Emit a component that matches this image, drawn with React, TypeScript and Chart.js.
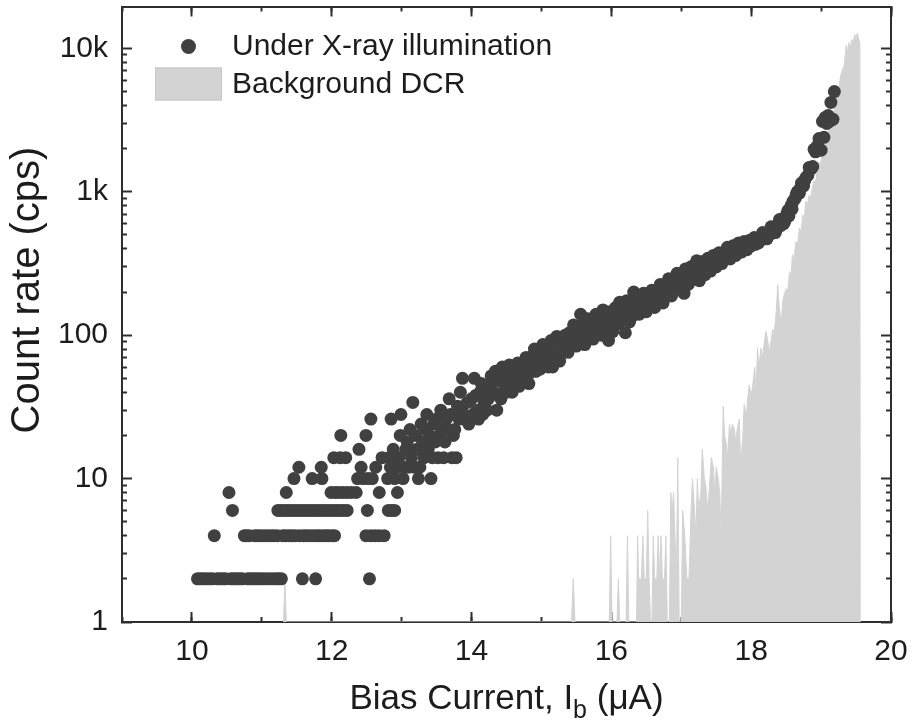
import { useEffect, useRef } from 'react';
import { Chart, registerables } from 'chart.js';

Chart.register(...registerables);

// ---------- data ----------
const xMin = 9;
const xMax = 20;
const yMin = 1;
const yMax = 19600;

const xMajorTicks = [10, 12, 14, 16, 18, 20];
const xMinorTicks = [9, 10, 11, 12, 13, 14, 15, 16, 17, 18, 19, 20];
const yMajorTicks = [1, 10, 100, 1000, 10000];
const yTickLabels = ['1', '10', '100', '1k', '10k'];
const yMinorTicks = [
  2, 3, 4, 5, 6, 7, 8, 9,
  20, 30, 40, 50, 60, 70, 80, 90,
  200, 300, 400, 500, 600, 700, 800, 900,
  2000, 3000, 4000, 5000, 6000, 7000, 8000, 9000,
];

const seriesLabels = ['Under X-ray illumination', 'Background DCR'];

// Under X-ray illumination: [bias current (uA), count rate (cps)]
const xrayPoints: [number, number][] = [
  // count 2
  [10.08, 2], [10.12, 2], [10.16, 2], [10.2, 2], [10.25, 2], [10.29, 2], [10.36, 2], [10.4, 2], [10.44, 2], [10.48, 2],
  [10.56, 2], [10.6, 2], [10.64, 2], [10.68, 2], [10.72, 2], [10.8, 2], [10.84, 2], [10.88, 2], [10.92, 2], [10.96, 2],
  [11.0, 2], [11.05, 2], [11.1, 2], [11.15, 2], [11.2, 2], [11.24, 2], [11.28, 2], [11.58, 2], [11.77, 2], [12.54, 2],
  // count 4
  [10.32, 4], [10.75, 4], [10.78, 4], [10.82, 4], [10.9, 4], [10.94, 4], [10.98, 4], [11.03, 4], [11.08, 4], [11.13, 4],
  [11.17, 4], [11.22, 4], [11.3, 4], [11.34, 4], [11.39, 4], [11.43, 4], [11.48, 4], [11.54, 4], [11.6, 4], [11.64, 4],
  [11.69, 4], [11.74, 4], [11.79, 4], [11.83, 4], [11.88, 4], [11.92, 4], [11.96, 4], [12.01, 4], [12.04, 4], [12.49, 4],
  [12.56, 4], [12.62, 4], [12.68, 4], [12.75, 4],
  // count 6
  [10.58, 6], [11.23, 6], [11.27, 6], [11.32, 6], [11.37, 6], [11.42, 6], [11.47, 6], [11.52, 6], [11.57, 6], [11.62, 6],
  [11.67, 6], [11.72, 6], [11.77, 6], [11.82, 6], [11.87, 6], [11.92, 6], [11.97, 6], [12.02, 6], [12.07, 6], [12.12, 6],
  [12.17, 6], [12.22, 6], [12.51, 6], [12.81, 6], [12.86, 6], [12.9, 6],
  // count 8
  [10.53, 8], [11.35, 8], [11.99, 8], [12.05, 8], [12.1, 8], [12.16, 8], [12.22, 8], [12.28, 8], [12.35, 8], [12.68, 8], [12.94, 8],
  // count 10 and more (sparse region)
  [11.46, 10], [11.72, 10], [11.86, 10], [12.37, 10], [12.45, 10], [12.52, 10], [12.58, 10],
  [11.53, 12], [11.85, 12], [12.42, 12], [12.63, 12],
  [12.03, 14], [12.12, 14], [12.2, 14], [12.72, 14],
  [12.39, 16], [12.13, 20], [12.49, 20], [12.56, 26], [12.85, 26], [12.99, 28],
  // dense band
  [12.8, 10], [12.82, 14], [12.84, 12], [12.88, 16], [12.9, 10], [12.94, 12], [12.96, 14], [12.98, 20], [13.02, 10], [13.04, 12],
  [13.06, 16], [13.08, 18], [13.1, 12], [13.12, 22], [13.14, 14], [13.16, 34], [13.18, 12], [13.2, 20], [13.22, 16], [13.24, 10],
  [13.26, 12], [13.28, 24], [13.3, 18], [13.32, 14], [13.34, 22], [13.36, 28], [13.38, 16], [13.4, 20], [13.42, 10], [13.44, 14],
  [13.46, 24], [13.48, 18], [13.5, 26], [13.52, 14], [13.54, 20], [13.56, 30], [13.58, 22], [13.6, 14], [13.62, 18], [13.64, 26],
  [13.66, 22], [13.68, 36], [13.7, 28], [13.72, 14], [13.74, 20], [13.76, 22], [13.78, 14], [13.8, 32], [13.82, 26], [13.84, 40],
  [13.86, 30], [13.87, 50], [13.9, 26], [13.94, 34], [13.96, 24], [14.0, 36], [14.02, 28], [14.04, 50], [14.06, 38], [14.08, 30],
  [14.1, 26], [14.12, 40], [14.14, 46], [14.16, 28], [14.18, 34], [14.2, 44], [14.22, 30], [14.24, 36], [14.26, 42], [14.28, 52],
  [14.3, 48], [14.32, 40], [14.34, 56], [14.36, 30], [14.38, 38], [14.4, 48], [14.42, 36], [14.44, 60], [14.46, 52], [14.48, 42],
  [14.5, 40], [14.52, 54], [14.54, 62], [14.56, 46], [14.58, 40], [14.6, 60], [14.62, 54], [14.64, 50], [14.66, 64], [14.68, 44],
  [14.7, 48], [14.72, 58], [14.74, 50], [14.76, 66], [14.78, 70], [14.8, 52], [14.82, 46], [14.84, 62], [14.86, 56], [14.88, 72],
  [14.9, 80], [14.92, 56], [14.94, 62], [14.96, 66], [14.98, 58], [15.0, 78], [15.02, 86], [15.04, 62], [15.06, 66], [15.08, 74],
  [15.1, 60], [15.12, 82], [15.14, 92], [15.16, 60], [15.18, 70], [15.2, 88], [15.22, 98], [15.24, 72], [15.26, 66], [15.28, 96],
  [15.3, 78], [15.32, 80], [15.34, 100], [15.36, 90], [15.38, 76], [15.4, 104], [15.42, 94], [15.44, 86], [15.46, 118], [15.48, 98],
  [15.5, 84], [15.52, 112], [15.54, 100], [15.56, 140], [15.58, 118], [15.6, 96], [15.62, 86], [15.64, 110], [15.66, 130], [15.68, 124],
  [15.7, 110], [15.72, 100], [15.74, 94], [15.76, 116], [15.78, 140], [15.8, 134], [15.82, 118], [15.84, 108], [15.86, 100], [15.88, 150],
  [15.9, 138], [15.92, 128], [15.94, 112], [15.96, 92], [15.98, 146], [16.0, 118], [16.02, 106], [16.04, 140], [16.06, 156], [16.08, 126],
  [16.1, 120], [16.12, 170], [16.14, 150], [16.16, 136], [16.18, 128], [16.2, 104], [16.22, 174], [16.24, 150], [16.26, 124], [16.28, 132],
  [16.3, 156], [16.32, 200], [16.34, 140], [16.36, 158], [16.38, 182], [16.4, 140], [16.42, 150], [16.44, 172], [16.46, 196], [16.48, 156],
  [16.5, 146], [16.52, 186], [16.54, 170], [16.56, 160], [16.58, 206], [16.6, 176], [16.62, 156], [16.64, 200], [16.66, 186], [16.68, 172],
  [16.7, 226], [16.72, 210], [16.74, 168], [16.76, 186], [16.78, 206], [16.8, 220], [16.82, 248], [16.84, 196], [16.86, 188], [16.88, 232],
  [16.9, 220], [16.92, 210], [16.94, 270], [16.96, 250], [16.98, 212], [17.0, 230], [17.02, 250], [17.04, 196], [17.06, 290], [17.08, 262],
  [17.1, 226], [17.12, 250], [17.14, 300], [17.16, 282], [17.18, 246], [17.2, 310], [17.22, 330], [17.24, 264], [17.26, 240], [17.28, 300],
  [17.3, 326], [17.32, 276], [17.34, 264], [17.36, 310], [17.38, 344], [17.4, 290], [17.42, 280], [17.44, 326], [17.46, 360], [17.48, 304],
  [17.5, 300], [17.52, 340], [17.54, 376], [17.56, 320], [17.58, 316], [17.6, 356], [17.62, 340], [17.64, 390], [17.66, 410], [17.68, 370],
  [17.7, 340], [17.72, 405], [17.74, 420], [17.76, 380], [17.78, 360], [17.8, 410], [17.82, 440], [17.84, 395], [17.86, 380], [17.88, 425],
  [17.9, 450], [17.92, 405], [17.94, 395], [17.96, 440], [17.98, 460], [18.0, 420], [18.03, 450], [18.045, 480], [18.06, 430], [18.09, 470],
  [18.105, 440], [18.12, 455], [18.15, 490], [18.165, 520], [18.18, 470], [18.21, 510], [18.225, 470], [18.24, 490], [18.27, 530], [18.285, 570],
  [18.3, 515], [18.33, 560], [18.345, 520], [18.36, 545], [18.39, 600], [18.405, 640], [18.42, 580], [18.45, 640], [18.465, 600], [18.48, 620],
  [18.51, 700], [18.525, 740], [18.54, 680], [18.57, 800], [18.585, 760], [18.6, 860], [18.63, 900], [18.645, 960], [18.66, 1000], [18.69, 980],
  [18.705, 1060], [18.72, 1150], [18.75, 1100], [18.765, 1200], [18.78, 1250], [18.81, 1300], [18.83, 1480], [18.86, 1450], [18.88, 1500], [18.9, 1980],
  [18.92, 1900], [18.95, 2100], [18.97, 2350], [19.0, 1950], [19.02, 3100], [19.04, 2400], [19.06, 3300], [19.08, 3000], [19.1, 3400], [19.12, 3100],
  [19.14, 4200], [19.17, 3200], [19.19, 5000],
];

// Background dark count rate: [bias current (uA), count rate (cps)]; 1 = no counts (axis floor)
const dcrPoints: [number, number][] = [
  [11.31, 1], [11.33, 2], [11.35, 1],
  [15.43, 1], [15.455, 2], [15.48, 1],
  [15.97, 1], [15.99, 4], [16.01, 1],
  [16.08, 1], [16.1, 2], [16.12, 1],
  [16.21, 1], [16.23, 4], [16.25, 1],
  [16.36, 1], [16.375, 4], [16.39, 2], [16.43, 2], [16.45, 4], [16.47, 2], [16.5, 2], [16.52, 6], [16.54, 2], [16.56, 1],
  [16.58, 1], [16.6, 4], [16.62, 2], [16.65, 2], [16.67, 4], [16.69, 2], [16.71, 4], [16.73, 2], [16.76, 2], [16.78, 4], [16.8, 1],
  [16.83, 1], [16.85, 8], [16.87, 6], [16.89, 8], [16.91, 4], [16.93, 2], [16.95, 14], [16.97, 1], [17.0, 1],
  [17.02, 6], [17.05, 4], [17.08, 2], [17.11, 2], [17.14, 6], [17.16, 10], [17.19, 6], [17.21, 4], [17.23, 10], [17.25, 6],
  [17.28, 8], [17.3, 16], [17.33, 10], [17.35, 9], [17.38, 6], [17.41, 10], [17.43, 14], [17.46, 12], [17.48, 8], [17.5, 12],
  [17.53, 10], [17.55, 8], [17.57, 4], [17.6, 32], [17.62, 20], [17.64, 18], [17.66, 14], [17.69, 24], [17.71, 20], [17.73, 24],
  [17.76, 22], [17.78, 18], [17.8, 22], [17.83, 26], [17.85, 12], [17.88, 20], [17.9, 33], [17.93, 27], [17.95, 36], [17.97, 45],
  [18.0, 38], [18.02, 44], [18.05, 60], [18.07, 40], [18.09, 81], [18.11, 60], [18.14, 81], [18.16, 70], [18.19, 90], [18.21, 107],
  [18.24, 90], [18.26, 77], [18.29, 95], [18.31, 110], [18.33, 101], [18.36, 150], [18.38, 225], [18.4, 160], [18.43, 119], [18.45, 172],
  [18.47, 190], [18.5, 211], [18.52, 200], [18.55, 278], [18.57, 260], [18.59, 365], [18.61, 330], [18.64, 450], [18.66, 420], [18.69, 560],
  [18.71, 520], [18.74, 690], [18.76, 640], [18.78, 860], [18.8, 800], [18.83, 950], [18.85, 900], [18.88, 1100], [18.9, 1200], [18.92, 1150],
  [18.95, 1500], [18.97, 1620], [18.99, 1500], [19.02, 2000], [19.04, 2200], [19.07, 2500], [19.09, 2400], [19.11, 2800], [19.14, 3000], [19.16, 3050],
  [19.18, 3600], [19.21, 4200], [19.23, 4800], [19.26, 5500], [19.28, 6500], [19.31, 7200], [19.33, 7600], [19.36, 10500], [19.38, 9500], [19.4, 11000],
  [19.42, 10200], [19.44, 11500], [19.46, 11000], [19.48, 12500], [19.5, 11800], [19.52, 12800], [19.54, 11500], [19.555, 11000], [19.56, 1],
];

// ---------- styles ----------
const FONT = '"Liberation Sans", Arial, Helvetica, sans-serif';
const AXIS_COLOR = '#2e2e2e';
const TEXT_COLOR = '#1c1c1c';
const DOT_COLOR = '#404040';
const DCR_COLOR = '#d3d3d3';

function tickAxis(opts: {
  type: 'linear' | 'logarithmic';
  position: 'left' | 'right' | 'top' | 'bottom';
  ticksList: number[];
  length: number;
  size: number;
  weight: number;
  border: boolean;
  labels?: boolean;
  padding?: number;
  callback?: (v: number) => string;
}) {
  const horizontal = opts.position === 'top' || opts.position === 'bottom';
  return {
    type: opts.type,
    position: opts.position,
    min: horizontal ? xMin : yMin,
    max: horizontal ? xMax : yMax,
    weight: opts.weight,
    z: 1,
    afterBuildTicks: (scale: any) => {
      scale.ticks = opts.ticksList.map((v) => ({ value: v }));
    },
    afterFit: (scale: any) => {
      if (horizontal) scale.height = opts.size;
      else scale.width = opts.size;
      scale.paddingTop = 0;
      scale.paddingBottom = 0;
      scale.paddingLeft = 0;
      scale.paddingRight = 0;
    },
    grid: {
      display: true,
      drawOnChartArea: false,
      drawTicks: true,
      tickLength: -opts.length,
      tickWidth: 2,
      tickColor: AXIS_COLOR,
      color: AXIS_COLOR,
    },
    border: { display: opts.border, color: AXIS_COLOR, width: 2 },
    ticks: {
      display: !!opts.labels,
      autoSkip: false,
      maxRotation: 0,
      includeBounds: false,
      padding: opts.padding ?? 0,
      color: TEXT_COLOR,
      font: { family: FONT, size: 30 },
      callback: opts.callback ?? ((v: number) => String(v)),
    },
  };
}

const overlayPlugin = {
  id: 'overlay',
  afterDraw(chart: any) {
    const ctx: CanvasRenderingContext2D = chart.ctx;
    const area = chart.chartArea;
    ctx.save();

    // legend
    ctx.fillStyle = DOT_COLOR;
    ctx.beginPath();
    ctx.arc(area.left + 66.5, area.top + 40, 7.5, 0, Math.PI * 2);
    ctx.fill();
    ctx.fillStyle = DCR_COLOR;
    ctx.fillRect(area.left + 33, area.top + 61, 67, 33);
    ctx.strokeStyle = '#c6c6c6';
    ctx.lineWidth = 1;
    ctx.strokeRect(area.left + 33.5, area.top + 61.5, 66, 32);
    ctx.fillStyle = TEXT_COLOR;
    ctx.font = `30px ${FONT}`;
    ctx.textAlign = 'left';
    ctx.textBaseline = 'middle';
    ctx.fillText(seriesLabels[0], area.left + 110, area.top + 40);
    ctx.fillText(seriesLabels[1], area.left + 110, area.top + 78);

    // x axis title with subscript
    const partA = 'Bias Current, I';
    const partB = 'b';
    const partC = ' (\u03bcA)';
    const mainFont = `35px ${FONT}`;
    const subFont = `25px ${FONT}`;
    ctx.textBaseline = 'alphabetic';
    ctx.font = mainFont;
    const wA = ctx.measureText(partA).width;
    const wC = ctx.measureText(partC).width;
    ctx.font = subFont;
    const wB = ctx.measureText(partB).width;
    const cx = (area.left + area.right) / 2;
    let x = cx - (wA + wB + wC) / 2;
    const base = area.bottom + 87;
    ctx.font = mainFont;
    ctx.fillText(partA, x, base);
    x += wA;
    ctx.font = subFont;
    ctx.fillText(partB, x, base + 9);
    x += wB;
    ctx.font = mainFont;
    ctx.fillText(partC, x, base);

    // y axis title
    ctx.translate(39, 290);
    ctx.rotate(-Math.PI / 2);
    ctx.font = `40px ${FONT}`;
    ctx.textAlign = 'center';
    ctx.fillText('Count rate (cps)', 0, 0);

    ctx.restore();
  },
};

export default function App() {
  const ref = useRef<HTMLCanvasElement>(null);

  useEffect(() => {
    if (!ref.current) return;
    const chart = new Chart(ref.current, {
      type: 'scatter',
      data: {
        datasets: [
          {
            type: 'scatter',
            label: seriesLabels[0],
            data: xrayPoints.map(([x, y]) => ({ x, y })),
            backgroundColor: DOT_COLOR,
            borderWidth: 0,
            pointRadius: 6.5,
            pointHoverRadius: 6.5,
          },
          {
            type: 'line',
            label: seriesLabels[1],
            data: dcrPoints.map(([x, y]) => ({ x, y })),
            borderColor: DCR_COLOR,
            backgroundColor: DCR_COLOR,
            borderWidth: 1,
            pointRadius: 0,
            tension: 0,
            fill: 'start',
          } as any,
        ],
      },
      options: {
        responsive: false,
        animation: false,
        events: [],
        layout: { padding: 0 },
        plugins: {
          legend: { display: false },
          tooltip: { enabled: false },
          title: { display: false },
        },
        scales: {
          x: tickAxis({ type: 'linear', position: 'bottom', ticksList: xMajorTicks, length: 10, size: 102, weight: 1, border: true, labels: true, padding: 22 }),
          xMinor: tickAxis({ type: 'linear', position: 'bottom', ticksList: xMinorTicks, length: 5, size: 0, weight: 0, border: false }),
          xTop: tickAxis({ type: 'linear', position: 'top', ticksList: xMajorTicks, length: 10, size: 4, weight: 1, border: true }),
          xTopMinor: tickAxis({ type: 'linear', position: 'top', ticksList: xMinorTicks, length: 5, size: 0, weight: 0, border: false }),
          y: tickAxis({
            type: 'logarithmic', position: 'left', ticksList: yMajorTicks, length: 10, size: 122, weight: 1, border: true, labels: true, padding: 24,
            callback: (v: number) => {
              const i = yMajorTicks.indexOf(Number(v));
              return i >= 0 ? yTickLabels[i] : '';
            },
          }),
          yMinor: tickAxis({ type: 'logarithmic', position: 'left', ticksList: yMinorTicks, length: 5, size: 0, weight: 0, border: false }),
          yRight: tickAxis({ type: 'logarithmic', position: 'right', ticksList: yMajorTicks, length: 10, size: 21, weight: 1, border: true }),
          yRightMinor: tickAxis({ type: 'logarithmic', position: 'right', ticksList: yMinorTicks, length: 5, size: 0, weight: 0, border: false }),
        } as any,
      },
      plugins: [overlayPlugin],
    });
    return () => chart.destroy();
  }, []);

  return (
    <div style={{ position: 'absolute', left: 0, top: 0, width: 912, height: 724, background: '#ffffff' }}>
      <canvas ref={ref} width={912} height={724} style={{ display: 'block' }} />
    </div>
  );
}
